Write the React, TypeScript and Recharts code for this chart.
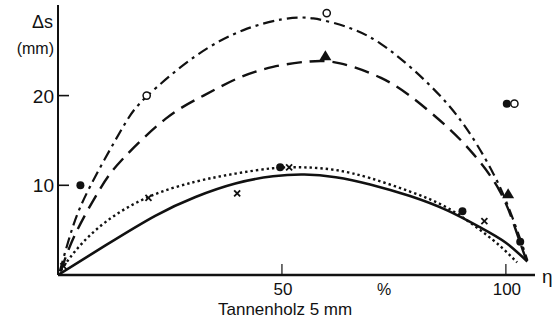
import React from 'react';
import { ComposedChart, Line, Scatter, XAxis, YAxis } from 'recharts';

// Curves (x = η in %, y = Δs in mm)
const dashDotCurve = [
  { x: 0.4, y: 0.4 }, { x: 3.2, y: 5.2 }, { x: 7.2, y: 9.9 }, { x: 14.4, y: 16.4 },
  { x: 19.8, y: 19.9 }, { x: 30.7, y: 24.4 }, { x: 41.4, y: 27.3 }, { x: 50, y: 28.5 },
  { x: 57, y: 28.6 }, { x: 65.3, y: 27.5 }, { x: 72, y: 25.8 }, { x: 79.3, y: 22.9 },
  { x: 86.9, y: 19.1 }, { x: 92.7, y: 15.2 }, { x: 97.2, y: 11.3 }, { x: 100.3, y: 7.9 },
  { x: 103.2, y: 4 }, { x: 104.8, y: 1.6 },
];
const dashedCurve = [
  { x: 0.6, y: 0.4 }, { x: 4, y: 4.7 }, { x: 9.4, y: 9.6 }, { x: 14.4, y: 12.9 },
  { x: 24, y: 17.4 }, { x: 32.5, y: 20 }, { x: 40, y: 21.9 }, { x: 48, y: 23.2 },
  { x: 56, y: 23.8 }, { x: 63, y: 23.6 }, { x: 72, y: 22 }, { x: 79.3, y: 19.7 },
  { x: 86.9, y: 16.5 }, { x: 92.7, y: 13.5 }, { x: 98.7, y: 9.3 }, { x: 102.5, y: 4.6 },
  { x: 104.6, y: 1.6 },
];
const solidCurve = [
  { x: 0, y: 0 }, { x: 10.6, y: 3.3 }, { x: 21.7, y: 6.6 }, { x: 30.7, y: 8.7 },
  { x: 39.6, y: 10.2 }, { x: 48, y: 11 }, { x: 55, y: 11.2 }, { x: 62, y: 10.9 },
  { x: 69.7, y: 10.1 }, { x: 78.6, y: 8.8 }, { x: 86.9, y: 7.2 }, { x: 94.3, y: 5.3 },
  { x: 100, y: 3.6 }, { x: 104.8, y: 1.5 },
];
const dottedCurve = [
  { x: 0, y: 0 }, { x: 3.9, y: 2.7 }, { x: 10.6, y: 5.9 }, { x: 20.2, y: 8.7 },
  { x: 30.7, y: 10.4 }, { x: 39.6, y: 11.3 }, { x: 48, y: 11.9 }, { x: 55, y: 12 },
  { x: 62, y: 11.7 }, { x: 69.7, y: 10.8 }, { x: 78.6, y: 9.3 }, { x: 86.9, y: 7.5 },
  { x: 94.3, y: 5 }, { x: 99, y: 3.1 }, { x: 102.5, y: 1.4 },
];

// Measured points
const filledCircles = [
  { x: 5, y: 10 }, { x: 49.6, y: 12 }, { x: 90.3, y: 7.1 }, { x: 100.2, y: 19.1 }, { x: 103.2, y: 3.7 },
];
const openCircles = [
  { x: 19.8, y: 20 }, { x: 60, y: 29.2 }, { x: 101.9, y: 19.1 },
];
const crosses = [
  { x: 1.2, y: 1 }, { x: 20.2, y: 8.6 }, { x: 40, y: 9.1 }, { x: 51.6, y: 12 }, { x: 95.2, y: 6 },
];
const filledTriangles = [
  { x: 59.7, y: 24.4 }, { x: 100.5, y: 9 },
];

const xTicks = [50, 100];
const yTicks = [10, 20];

const INK = '#111';
const FONT = '"Liberation Sans", Arial, sans-serif';

const YTick = (props: any) => {
  const { x, y, payload } = props;
  return (
    <g>
      <line x1={x} x2={x + 11} y1={y} y2={y} stroke={INK} strokeWidth={1.6} />
      <text x={x - 4} y={y} dy={7} textAnchor="end" fontSize={19} fontFamily={FONT} fill={INK}>
        {payload.value}
      </text>
    </g>
  );
};

const XTick = (props: any) => {
  const { x, y, payload } = props;
  return (
    <g>
      <line x1={x} x2={x} y1={y} y2={y - 11} stroke={INK} strokeWidth={1.2} />
      <text x={x + 1} y={y + 20} textAnchor="middle" fontSize={17} fontFamily={FONT} fill={INK}>
        {payload.value}
      </text>
    </g>
  );
};

const FilledCircle = (p: any) => <circle cx={p.cx} cy={p.cy} r={4} fill={INK} />;
const OpenCircle = (p: any) => (
  <circle cx={p.cx} cy={p.cy} r={3.6} fill="#fff" stroke={INK} strokeWidth={1.5} />
);
const Cross = (p: any) => (
  <g stroke={INK} strokeWidth={1.8}>
    <line x1={p.cx - 3} y1={p.cy - 3} x2={p.cx + 3} y2={p.cy + 3} />
    <line x1={p.cx - 3} y1={p.cy + 3} x2={p.cx + 3} y2={p.cy - 3} />
  </g>
);
const Triangle = (p: any) => (
  <polygon
    points={`${p.cx},${p.cy - 6} ${p.cx - 6},${p.cy + 4} ${p.cx + 6},${p.cy + 4}`}
    fill={INK}
  />
);

export default function App() {
  return (
    <div style={{ position: 'absolute', left: 0, top: 0, width: 552, height: 324, background: '#fff' }}>
      <ComposedChart
        width={552}
        height={324}
        margin={{ top: 5, right: 17, bottom: 0, left: 0 }}
      >
        <XAxis
          dataKey="x"
          type="number"
          domain={[0, 106.5]}
          ticks={xTicks}
          allowDataOverflow
          height={49}
          tickLine={false}
          tickSize={0}
          tickMargin={0}
          tick={<XTick />}
          axisLine={{ stroke: INK, strokeWidth: 2.4 }}
        />
        <YAxis
          dataKey="y"
          type="number"
          domain={[0, 30.1]}
          ticks={yTicks}
          allowDataOverflow
          width={58}
          tickLine={false}
          tickSize={0}
          tickMargin={0}
          tick={<YTick />}
          axisLine={{ stroke: INK, strokeWidth: 2 }}
        />
        <Line data={dashDotCurve} dataKey="y" type="natural" dot={false} activeDot={false}
          stroke={INK} strokeWidth={2.2} strokeDasharray="11 5 3 5" isAnimationActive={false} />
        <Line data={dashedCurve} dataKey="y" type="natural" dot={false} activeDot={false}
          stroke={INK} strokeWidth={2.4} strokeDasharray="15 8" isAnimationActive={false} />
        <Line data={solidCurve} dataKey="y" type="natural" dot={false} activeDot={false}
          stroke={INK} strokeWidth={2.6} isAnimationActive={false} />
        <Line data={dottedCurve} dataKey="y" type="natural" dot={false} activeDot={false}
          stroke={INK} strokeWidth={2.4} strokeDasharray="2.4 3" isAnimationActive={false} />
        <Scatter data={filledCircles} dataKey="y" shape={<FilledCircle />} isAnimationActive={false} />
        <Scatter data={openCircles} dataKey="y" shape={<OpenCircle />} isAnimationActive={false} />
        <Scatter data={crosses} dataKey="y" shape={<Cross />} isAnimationActive={false} />
        <Scatter data={filledTriangles} dataKey="y" shape={<Triangle />} isAnimationActive={false} />
      </ComposedChart>
      <svg width={552} height={324} style={{ position: 'absolute', left: 0, top: 0, pointerEvents: 'none' }}>
        <text x={53} y={28} textAnchor="end" fontSize={18} fontFamily={FONT} fill={INK}>Δs</text>
        <text x={54} y={54} textAnchor="end" fontSize={16} fontFamily={FONT} fill={INK}>(mm)</text>
        <text x={384} y={295} textAnchor="middle" fontSize={16} fontFamily={FONT} fill={INK}>%</text>
        <text x={542} y={283} fontSize={19} fontFamily={FONT} fill={INK}>η</text>
        <text x={218} y={315} fontSize={17} fontFamily={FONT} fill={INK}>Tannenholz 5 mm</text>
      </svg>
    </div>
  );
}
